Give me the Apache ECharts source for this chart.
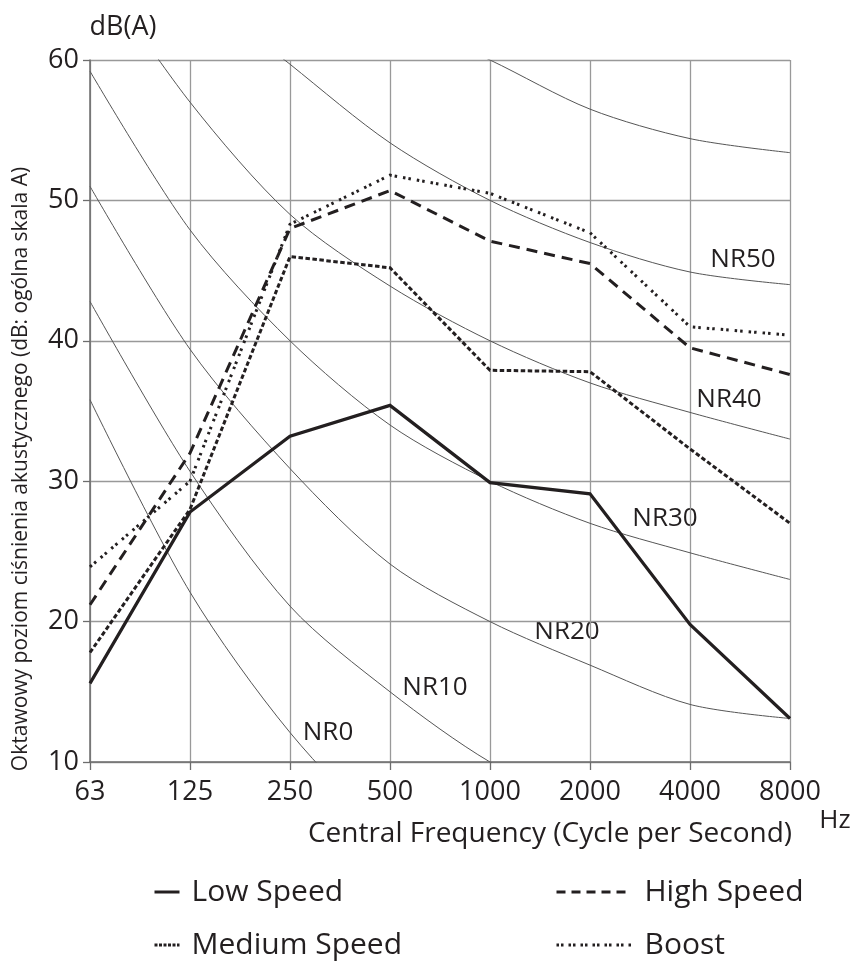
<!DOCTYPE html>
<html>
<head>
<meta charset="utf-8">
<title>Noise levels vs NR curves</title>
<script src="https://cdn.jsdelivr.net/npm/echarts@6/dist/echarts.min.js"></script>
<style>
html, body { margin: 0; padding: 0; background: #fff; }
#chart { width: 855px; height: 963px; }
</style>
</head>
<body>
<div id="chart"></div>
<script>
// octave band centre frequencies (Hz)
var freqs = ['63', '125', '250', '500', '1000', '2000', '4000', '8000'];
var yMin = 10, yMax = 60, yStep = 10;

// measured fan levels, dB(A)
var lowSpeed    = [15.6, 27.8, 33.2, 35.4, 29.9, 29.1, 19.8, 13.1];
var mediumSpeed = [17.8, 28.0, 46.0, 45.2, 37.9, 37.8, 32.3, 27.0];
var highSpeed   = [21.2, 32.0, 48.0, 50.7, 47.1, 45.5, 39.5, 37.6];
var boost       = [23.9, 30.0, 48.3, 51.8, 50.5, 47.7, 41.0, 40.4];

// NR reference curves (parts outside 10..60 are clipped)
var nr0  = [35.8, 22.1, 12.1, 4.8, 0.0, -3.5, -6.1, -8.0];
var nr10 = [42.8, 30.7, 21.1, 15.0, 10.0, 6.6, 4.2, 2.3];
var nr20 = [51.0, 39.4, 30.9, 24.1, 20.0, 16.9, 14.1, 13.1];
var nr30 = [59.2, 47.9, 40.0, 34.0, 30.0, 27.0, 24.9, 23.0];
var nr40 = [67.1, 57.0, 49.0, 43.9, 40.0, 37.0, 34.9, 33.0];
var nr50 = [75.0, 65.5, 59.7, 54.1, 50.0, 47.0, 44.9, 44.0];
var nr60 = [82.9, 74.2, 68.0, 63.2, 60.0, 56.5, 54.4, 53.4];
var nrCurves = [nr0, nr10, nr20, nr30, nr40, nr50, nr60];

var FONT = '"Open Sans", "Noto Sans", sans-serif';
var INK = '#231f20';

var chart = echarts.init(document.getElementById('chart'));

function nrSeries(data, i) {
  return {
    name: 'NR' + (i * 10),
    type: 'line',
    data: data,
    smooth: 0.3,
    symbol: 'none',
    silent: true,
    z: 1,
    color: '#555',
    lineStyle: { color: '#555', width: 1 }
  };
}

function speedSeries(name, data, dash, width) {
  return {
    name: name,
    type: 'line',
    data: data,
    symbol: 'none',
    showSymbol: false,
    z: 5,
    color: INK,
    itemStyle: { color: INK },
    lineStyle: { color: INK, width: width, type: dash, cap: 'butt', join: 'miter' }
  };
}

function legendBox(name, left, top, w, dash, pad) {
  return {
    data: [name],
    left: left,
    top: top,
    orient: 'horizontal',
    selectedMode: false,
    itemWidth: w,
    itemHeight: 14,
    padding: 0,
    itemStyle: { color: 'rgba(0,0,0,0)', borderWidth: 0, opacity: 0 },
    lineStyle: { color: INK, width: 3, type: dash, opacity: 1 },
    textStyle: { fontSize: 30, fontFamily: FONT, color: INK, padding: [0, 0, 0, pad] }
  };
}

function label(text, x, y, size) {
  return {
    type: 'text',
    x: x,
    y: y,
    style: {
      text: text,
      fontSize: size,
      fontFamily: FONT,
      fill: INK,
      align: 'center',
      textAlign: 'center',
      verticalAlign: 'middle',
      textVerticalAlign: 'middle'
    }
  };
}

var series = nrCurves.map(nrSeries).concat([
  speedSeries('Low Speed', lowSpeed, 'solid', 3.2),
  speedSeries('Medium Speed', mediumSpeed, [4.5, 2.5], 3),
  speedSeries('High Speed', highSpeed, [11, 7], 3),
  speedSeries('Boost', boost, [2.5, 3, 2.5, 6], 3)
]);

var yTitle = label('Oktawowy poziom ciśnienia akustycznego (dB: ogólna skala A)', 21, 469, 21);
yTitle.rotation = Math.PI / 2;

var option = {
  animation: false,
  grid: { left: 90, right: 65, top: 60, bottom: 201 },
  xAxis: {
    type: 'category',
    data: freqs,
    boundaryGap: false,
    axisLine: { lineStyle: { color: '#6d6d6d', width: 1.5 } },
    axisTick: { show: true, length: 8, lineStyle: { color: '#6d6d6d', width: 1.3 } },
    axisLabel: { fontSize: 27, fontFamily: FONT, color: INK, margin: 17 },
    splitLine: { show: true, lineStyle: { color: '#999', width: 1.3 } }
  },
  yAxis: {
    type: 'value',
    min: yMin,
    max: yMax,
    interval: yStep,
    axisLine: { show: true, lineStyle: { color: '#6d6d6d', width: 1.5 } },
    axisTick: { show: true, length: 7, lineStyle: { color: '#6d6d6d', width: 1.3 } },
    axisLabel: { fontSize: 27, fontFamily: FONT, color: INK, margin: 11 },
    splitLine: { show: true, lineStyle: { color: '#999', width: 1.3 } }
  },
  legend: [
    legendBox('Low Speed', 153, 877, 25, 'solid', 7),
    legendBox('Medium Speed', 153, 930, 25, [3, 1.5], 7),
    legendBox('High Speed', 555, 877, 75, [9, 6], 8),
    legendBox('Boost', 555, 930, 75, [2.5, 2, 2.5, 5], 8)
  ],
  graphic: [
    yTitle,
    label('dB(A)', 123, 27, 27),
    label('Hz', 835, 821, 26),
    label('Central Frequency (Cycle per Second)', 550, 834, 28),
    label('NR0', 328, 733, 26),
    label('NR10', 435, 688, 26),
    label('NR20', 567, 632, 26),
    label('NR30', 665, 519, 26),
    label('NR40', 729, 400, 26),
    label('NR50', 743, 260, 26)
  ],
  series: series
};

chart.setOption(option);
</script>
</body>
</html>
